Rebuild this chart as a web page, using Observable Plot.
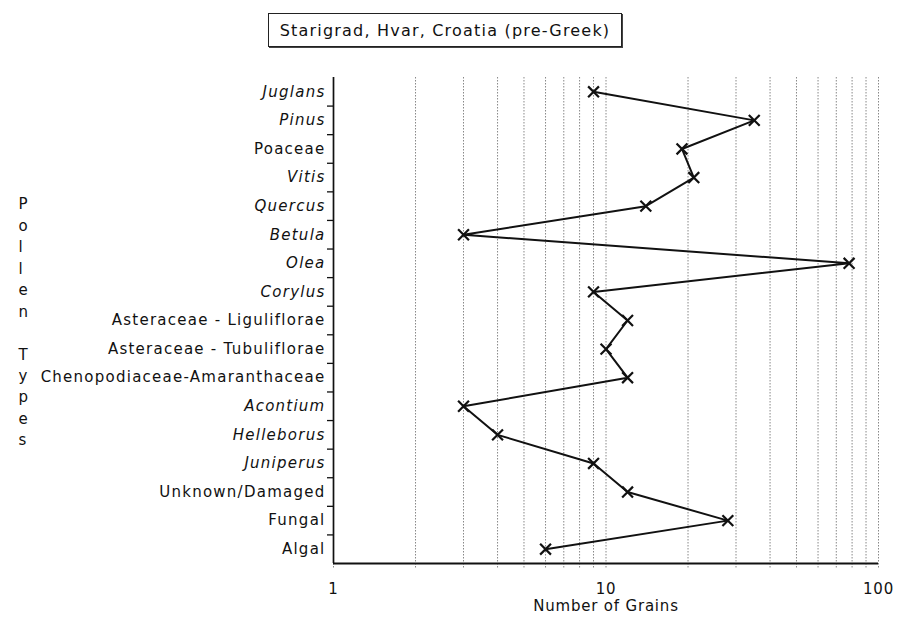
<!DOCTYPE html>
<html>
<head>
<meta charset="utf-8">
<script src="https://cdn.jsdelivr.net/npm/d3@7"></script>
<script src="https://cdn.jsdelivr.net/npm/@observablehq/plot@0.6"></script>
<style>
  html, body { margin: 0; padding: 0; background: #fff; }
  #wrap { position: relative; width: 898px; height: 619px; font-family: "DejaVu Sans", sans-serif; }
  #title {
    position: absolute; left: 268px; top: 13px; width: 352px; height: 32px;
    border: 1.5px solid #222; box-shadow: 1px 1px 0 #444;
    font-size: 16px; letter-spacing: 1.2px; line-height: 33px; text-align: center; color: #111;
    box-sizing: content-box; z-index: 2; white-space: nowrap;
  }
  #chart { position: absolute; left: 0; top: 0; }
  svg text { letter-spacing: 0.8px; }
  svg g.ylab text { letter-spacing: 1.25px; }
</style>
</head>
<body>
<div id="wrap">
  <div id="title">Starigrad, Hvar, Croatia (pre-Greek)</div>
  <div id="chart"></div>
</div>
<script>
// Data
const categories = ["Juglans", "Pinus", "Poaceae", "Vitis", "Quercus", "Betula", "Olea", "Corylus",
  "Asteraceae - Liguliflorae", "Asteraceae - Tubuliflorae", "Chenopodiaceae-Amaranthaceae",
  "Acontium", "Helleborus", "Juniperus", "Unknown/Damaged", "Fungal", "Algal"];
const grains = [9, 35, 19, 21, 14, 3, 78, 9, 12, 10, 12, 3, 4, 9, 12, 28, 6];
const italic = [true, true, false, true, true, true, true, true, false, false, false, true, true, true, false, false, false];
const gridValues = [2, 3, 4, 5, 6, 7, 8, 9, 10, 20, 30, 40, 50, 60, 70, 80, 90, 100];
const xTickLabels = [1, 10, 100];
const xTitle = "Number of Grains";
const yTitle = "Pollen Types";

const data = categories.map((c, i) => ({category: c, i, value: grains[i]}));
const italicIdx = data.filter(d => italic[d.i]).map(d => d.i);
const romanIdx = data.filter(d => !italic[d.i]).map(d => d.i);
const boundaries = d3.range(0.5, categories.length - 1, 1);
const n = categories.length;

const chart = Plot.plot({
  width: 898,
  height: 619,
  marginLeft: 333,
  marginRight: 20,
  marginTop: 77,
  marginBottom: 56,
  style: {fontFamily: "DejaVu Sans, sans-serif", fontSize: "15px", color: "#111", background: "transparent"},
  x: {type: "log", domain: [1, 100]},
  y: {domain: [-0.5, n - 0.5], reverse: true},
  marks: [
    Plot.ruleX(gridValues, {stroke: "#888", strokeWidth: 1, strokeDasharray: "1.5,1.5"}),
    Plot.axisX({ticks: [1, ...gridValues], tickFormat: () => "", tickSize: 6, stroke: "#888", strokeDasharray: "1.5,1.5", label: null}),
    Plot.axisX({ticks: xTickLabels, tickFormat: d => String(d), tickSize: 0, tickPadding: 20, fontSize: 15, label: null}),
    Plot.axisY({ticks: boundaries, tickFormat: () => "", tickSize: 6, stroke: "#111", strokeWidth: 1.3, label: null}),
    Plot.axisY({ticks: italicIdx, tickFormat: i => categories[i], tickSize: 0, tickPadding: 8, fontStyle: "italic", fontSize: 15, label: null, className: "ylab"}),
    Plot.axisY({ticks: romanIdx, tickFormat: i => categories[i], tickSize: 0, tickPadding: 8, fontSize: 15, label: null, className: "ylab"}),
    Plot.ruleX([1], {stroke: "#111", strokeWidth: 1.7}),
    Plot.ruleY([n - 0.5], {stroke: "#111", strokeWidth: 2}),
    Plot.line(data, {x: "value", y: "i", stroke: "#111", strokeWidth: 2}),
    Plot.dot(data, {x: "value", y: "i", symbol: "times", r: 5, stroke: "#111", strokeWidth: 2.2}),
    Plot.text([xTitle], {frameAnchor: "bottom", dy: 47, fontSize: 15, fill: "#111"}),
    Plot.text([yTitle.split("").join("\n")], {frameAnchor: "left", dx: -315, fontSize: 15, lineHeight: 1.43, fill: "#111"})
  ]
});
document.getElementById("chart").appendChild(chart);
</script>
</body>
</html>
